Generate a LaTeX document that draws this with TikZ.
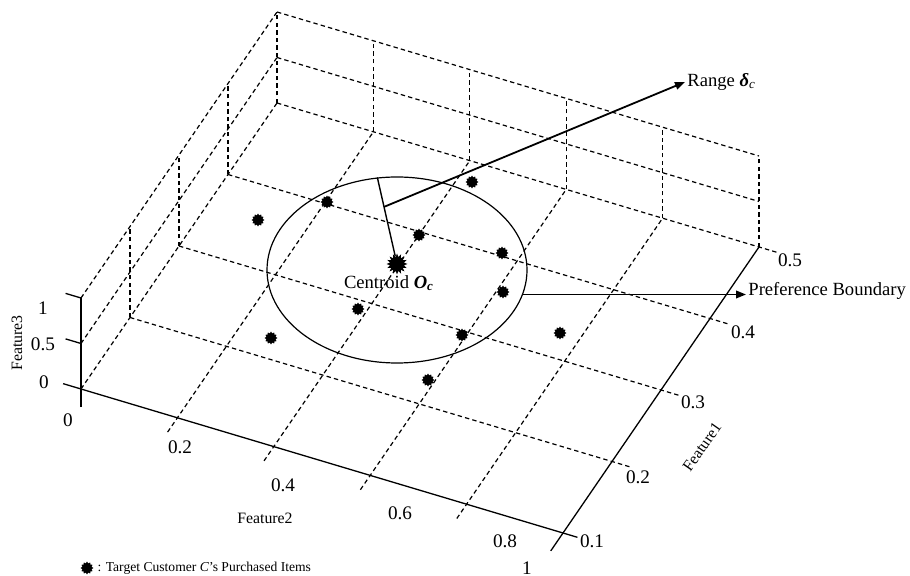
\documentclass[tikz,border=0pt]{standalone}
\usepackage{fontspec}
\setmainfont{Liberation Serif}
\usetikzlibrary{arrows.meta,positioning,shapes.geometric,calc}

\begin{document}
\begin{tikzpicture}[
  x=0.5pt, y=-0.5pt,
  gridline/.style={dash pattern=on 2.2pt off 1.6pt, line width=0.6pt},
  axisline/.style={line width=0.65pt},
  ticklab/.style={font=\fontsize{9.6}{11}\selectfont, inner sep=0pt},
  featlab/.style={font=\fontsize{7.9}{9}\selectfont, inner sep=0pt},
  itemstar/.style={star, star points=12, star point ratio=1.35, fill=black,
                   draw=none, inner sep=0pt, minimum size=6.4pt},
  callout/.style={font=\fontsize{9.3}{11}\selectfont, inner sep=1pt},
  carr/.style={-{Triangle[length=5pt,width=3.8pt]}, line width=0.9pt}
]
\useasboundingbox (0,0) rectangle (910,576);

% Feature space box (x: Feature2, y: Feature1 steps from 0.1, z: Feature3)
\begin{scope}[shift={(81,389)}, x={(241pt,-72pt)}, y={(24.5pt,35.75pt)}, z={(0pt,45.5pt)}]
  % floor grid
  \foreach \st in {1,2,3,4}
    \draw[gridline] (0,\st,0) -- (1.04,\st,0);
  \foreach \fv in {0.2,0.4,0.6,0.8}
    \draw[gridline] (\fv,-0.2,0) -- (\fv,4,0);
  \draw[gridline] (0,0,0) -- (0,4,0);
  % back wall
  \foreach \hv in {0.5,1}
    \draw[gridline] (0,4,\hv) -- (1,4,\hv);
  \foreach \fv in {0,0.2,0.4,0.6,0.8,1}
    \draw[gridline] (\fv,4,0) -- (\fv,4,1);
  % left wall
  \foreach \hv in {0.5,1}
    \draw[gridline] (0,0,\hv) -- (0,4,\hv);
  \foreach \st in {1,2,3}
    \draw[gridline] (0,\st,0) -- (0,\st,1);
  % axes
  \draw[axisline] (-0.037,0,0) -- (1.03,0,0);
  \draw[axisline] (1,-0.25,0) -- (1,4,0);
  \draw[axisline] (0,0,-0.2) -- (0,0,1);
  \foreach \hv in {0.5,1}
    \draw[axisline] (0,0,\hv) -- (-0.032,0,\hv);
\end{scope}

% Tick labels
\foreach \lab/\px/\py [count=\i] in {0/68/420, 0.2/180/447, 0.4/283/485, 0.6/400/513, 0.8/505/541, 1/527/568}
  \node[ticklab] (ftwo\i) at (\px,\py) {\lab};
\foreach \lab/\px/\py [count=\i] in {0.1/592/541, 0.2/638/477, 0.3/693/402, 0.4/743/332, 0.5/790/260}
  \node[ticklab] (fone\i) at (\px,\py) {\lab};
\foreach \lab/\px/\py [count=\i] in {0/44/382, 0.5/43/344, 1/43/308}
  \node[ticklab] (fthree\i) at (\px,\py) {\lab};

% Axis titles
\node[featlab, rotate=90] (f3lab) at (17,343) {Feature3};
\node[featlab] (f2lab) at (265,518) {Feature2};
\node[featlab, rotate=55] (f1lab) at (702,447) {Feature1};

% Purchased items
\foreach \px/\py [count=\i] in {258/220, 327/202, 472/182, 419/235, 502/253, 503/292,
                                358/309, 271/338, 462/335, 428/380, 560/333}
  \node[itemstar] (it\i) at (\px,\py) {};

% Preference boundary and centroid
\node[draw, ellipse, line width=0.6pt, inner sep=0pt,
      minimum width=130pt, minimum height=93pt] (bound) at (397,270) {};
\node[itemstar, star points=16, star point ratio=1.5, minimum size=10.5pt] (cen) at (397,264) {};
\node[callout] (cenlab) at (389,283) {Centroid \textbf{\textit{O}}\textsubscript{\textbf{\textit{c}}}};
\draw[line width=0.7pt] (cen) -- (bound.102);

% Callouts
\coordinate (rmid) at ($(cen.center)!0.66!(bound.102)$);
\node[callout, anchor=west] (range) at (685,82) {Range \textbf{\textit{δ}}\textsubscript{\textit{c}}};
\node[callout, anchor=west] (pref) at (746,291) {Preference Boundary};
\draw[carr] (rmid) -- (range.west);
\draw[carr] (bound.-11) -- (bound.-11 -| pref.west);

% Legend
\node[itemstar] (legstar) at (87,568) {};
\node[font=\fontsize{6.8}{8}\selectfont, inner sep=0pt, right=1.5pt of legstar] (legtext)
  {: Target Customer \textit{C}'s Purchased Items};
\end{tikzpicture}
\end{document}
